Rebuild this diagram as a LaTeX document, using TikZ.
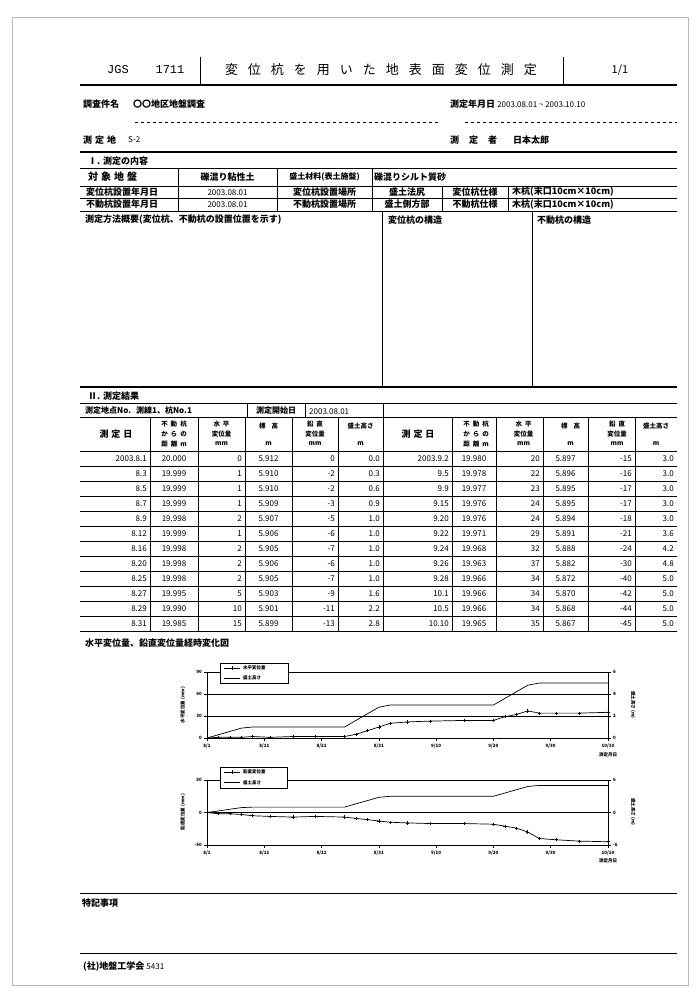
\documentclass[tikz,border=0pt]{standalone}
\usepackage{fontspec}
\setmainfont{Noto Sans CJK JP}
\newfontfamily\monof{Liberation Mono}
\newcommand\tg{\hspace{10pt}}
\newcommand\sg{\hspace{3pt}}
\begin{document}
\begin{tikzpicture}[x=1pt,y=-1pt,
  tx/.style={inner sep=0pt, font=\fontsize{9}{10}\selectfont\bfseries},
  tw/.style={tx, anchor=west},
  num/.style={inner sep=0pt, font=\fontsize{8}{9}\selectfont},
  hd/.style={inner sep=0pt, font=\fontsize{6.5}{7}\selectfont\bfseries},
  tiny/.style={inner sep=0pt, font=\fontsize{4.5}{5}\selectfont\bfseries},
  ln/.style={line width=0.8pt},
  thk/.style={line width=1.3pt},
  gl/.style={line width=0.7pt},
  pl/.style={line width=0.7pt}]
\useasboundingbox (0,0) rectangle (699,994);
\fill[white] (0,0) rectangle (699,994);
\draw[gray!55, line width=0.6pt] (12,17) rectangle (688,985);

% ---------- header ----------
\draw[thk] (80,85) -- (677,85);
\draw[ln] (200,57) -- (200,85);
\draw[ln] (563,57) -- (563,85);
\node[inner sep=0pt, font=\monof\fontsize{12}{13}\selectfont] (jgs) at (118,70) {JGS};
\node[inner sep=0pt, font=\monof\fontsize{12}{13}\selectfont] (num) at (170,70) {1711};
\node[inner sep=0pt, font=\fontsize{13}{14}\selectfont] (title) at (381,70) {変\tg 位\tg 杭\tg を\tg 用\tg い\tg た\tg 地\tg 表\tg 面\tg 変\tg 位\tg 測\tg 定};
\node[inner sep=0pt, font=\fontsize{11}{12}\selectfont] (page) at (620,70) {1/1};

\node[tw] (kenmei) at (83,104) {調査件名};
\node[tw] (kenmeiv) at (133,104) {〇〇地区地盤調査};
\node[tw] (sbi) at (450,104) {測定年月日 {\mdseries\fontsize{8}{9}\selectfont 2003.08.01 \textasciitilde{} 2003.10.10}};
\draw[ln, dash pattern=on 3pt off 3pt] (135,122) -- (438,122);
\draw[ln, dash pattern=on 3pt off 3pt] (465,122) -- (677,122);
\node[tw] (chi) at (83,140) {測\sg 定\sg 地};
\node[tw] (chiv) at (128,140) {\mdseries\fontsize{8}{9}\selectfont S-2};
\node[tw] (sha) at (450,140) {測\tg 定\tg 者};
\node[tw] (shav) at (513,140) {日本太郎};
\draw[thk] (80,152) -- (677,152);

% ---------- section I ----------
\node[tw] (s1) at (88,161) {Ⅰ. 測定の内容};
\foreach \yy in {168,186,198,211} \draw[ln] (80,\yy) -- (677,\yy);
\foreach \xx in {178,277,372} \draw[ln] (\xx,168) -- (\xx,211);
\foreach \xx in {442,508} \draw[ln] (\xx,186) -- (\xx,211);
\node[tw, font=\fontsize{10}{11}\selectfont\bfseries] (r1a) at (88,177) {対\sg 象\sg 地\sg 盤};
\node[tx] (r1b) at (227.5,177) {礫混り粘性土};
\node[tx, font=\fontsize{8}{9}\selectfont\bfseries] (r1c) at (324.5,177) {盛土材料(表土施盤)};
\node[tw] (r1d) at (374,177) {礫混りシルト質砂};
\node[tw] (r2a) at (86,192) {変位杭設置年月日};
\node[num] (r2b) at (227.5,192.5) {2003.08.01};
\node[tx] (r2c) at (324.5,192) {変位杭設置場所};
\node[tx] (r2d) at (407,192) {盛土法尻};
\node[tx] (r2e) at (475,192) {変位杭仕様};
\node[tw] (r2f) at (512,192) {木杭(末口10cm×10cm)};
\node[tw] (r3a) at (86,204.5) {不動杭設置年月日};
\node[num] (r3b) at (227.5,205) {2003.08.01};
\node[tx] (r3c) at (324.5,204.5) {不動杭設置場所};
\node[tx] (r3d) at (407,204.5) {盛土側方部};
\node[tx] (r3e) at (475,204.5) {不動杭仕様};
\node[tw] (r3f) at (512,204.5) {木杭(末口10cm×10cm)};
\node[tw] (meth) at (85,220) {測定方法概要(変位杭、不動杭の設置位置を示す)};
\node[tw] (str1) at (388,220) {変位杭の構造};
\node[tw] (str2) at (537,220) {不動杭の構造};
\draw[ln] (382,211) -- (382,387);
\draw[ln] (532,211) -- (532,387);
\draw[thk] (80,387) -- (677,387);

% ---------- section II ----------
\node[tw] (s2) at (88,396) {Ⅱ. 測定結果};
\draw[ln] (80,403) -- (677,403);
\draw[ln] (80,417) -- (677,417);
\foreach \xx in {247,305,383} \draw[ln] (\xx,403) -- (\xx,417);
\node[num, anchor=west, font=\fontsize{8}{9}\selectfont\bfseries] (pt) at (85,410) {測定地点No.};
\node[num, anchor=west, font=\fontsize{8}{9}\selectfont\bfseries] (ptv) at (136,410) {測線1、杭No.1};
\node[tx, font=\fontsize{8}{9}\selectfont\bfseries] (st) at (276,410) {測定開始日};
\node[num, anchor=west] (stv) at (309,412) {2003.08.01};
\foreach \xx in {150,198,245,292,338,383,452,496,543,588,635} \draw[ln] (\xx,417) -- (\xx,631);
\foreach \k in {0,...,12} \draw[ln] (80,451+15*\k) -- (677,451+15*\k);
% header cells
\foreach \o/\s in {0/L,302/R}{
  \node[tx] (hd\s a) at (116+\o,434) {測\sg 定\sg 日};
  \node[hd] (hd\s b1) at (174+\o,424) {不\sg 動\sg 杭};
  \node[hd] (hd\s b2) at (174+\o,434) {か\sg ら\sg の};
  \node[hd] (hd\s b3) at (174+\o,444) {距\sg 離\sg m};
  \node[hd] (hd\s c1) at (221.5+\o,424) {水\sg 平};
  \node[hd] (hd\s c2) at (221.5+\o,434) {変位量};
  \node[hd] (hd\s c3) at (221.5+\o,444) {mm};
  \node[hd] (hd\s d1) at (268.5+\o,426) {標\hspace{6pt}高};
  \node[hd] (hd\s d3) at (268.5+\o,444) {m};
  \node[hd] (hd\s e1) at (315+\o,424) {鉛\sg 直};
  \node[hd] (hd\s e2) at (315+\o,434) {変位量};
  \node[hd] (hd\s e3) at (315+\o,444) {mm};
}
\node[hd] (hdLf1) at (360.5,426) {盛土高さ};
\node[hd] (hdLf3) at (360.5,444) {m};
\node[hd] (hdRf1) at (656,426) {盛土高さ};
\node[hd] (hdRf3) at (656,444) {m};
% data
\foreach \da/\db/\dc/\dd/\de/\df [count=\k from 0] in {
 2003.8.1/20.000/0/5.912/0/0.0, 8.3/19.999/1/5.910/-2/0.3, 8.5/19.999/1/5.910/-2/0.6,
 8.7/19.999/1/5.909/-3/0.9, 8.9/19.998/2/5.907/-5/1.0, 8.12/19.999/1/5.906/-6/1.0,
 8.16/19.998/2/5.905/-7/1.0, 8.20/19.998/2/5.906/-6/1.0, 8.25/19.998/2/5.905/-7/1.0,
 8.27/19.995/5/5.903/-9/1.6, 8.29/19.990/10/5.901/-11/2.2, 8.31/19.985/15/5.899/-13/2.8}{
  \pgfmathsetmacro\yy{458.5+15*\k}
  \node[num, anchor=east] (la\k) at (147,\yy) {\da};
  \node[num] (lb\k) at (174,\yy) {\db};
  \node[num, anchor=east] (lc\k) at (242,\yy) {\dc};
  \node[num] (ld\k) at (268.5,\yy) {\dd};
  \node[num, anchor=east] (le\k) at (335,\yy) {\de};
  \node[num, anchor=east] (lf\k) at (380,\yy) {\df};
}
\foreach \da/\db/\dc/\dd/\de/\df [count=\k from 0] in {
 2003.9.2/19.980/20/5.897/-15/3.0, 9.5/19.978/22/5.896/-16/3.0, 9.9/19.977/23/5.895/-17/3.0,
 9.15/19.976/24/5.895/-17/3.0, 9.20/19.976/24/5.894/-18/3.0, 9.22/19.971/29/5.891/-21/3.6,
 9.24/19.968/32/5.888/-24/4.2, 9.26/19.963/37/5.882/-30/4.8, 9.28/19.966/34/5.872/-40/5.0,
 10.1/19.966/34/5.870/-42/5.0, 10.5/19.966/34/5.868/-44/5.0, 10.10/19.965/35/5.867/-45/5.0}{
  \pgfmathsetmacro\yy{458.5+15*\k}
  \node[num, anchor=east] (ra\k) at (449,\yy) {\da};
  \node[num] (rb\k) at (474,\yy) {\db};
  \node[num, anchor=east] (rc\k) at (540,\yy) {\dc};
  \node[num] (rd\k) at (565.5,\yy) {\dd};
  \node[num, anchor=east] (re\k) at (632,\yy) {\de};
  \node[num, anchor=east] (rf\k) at (674,\yy) {\df};
}

% ---------- charts ----------
\node[tw] (ctitle) at (85,643) {水平変位量、鉛直変位量経時変化図};

% chart 1
\draw[gl] (207,672) rectangle (608,738);
\draw[gl] (207,694) -- (608,694);
\draw[gl] (207,716) -- (608,716);
\foreach \yy/\la/\ra in {672/90/6, 694/60/4, 716/30/2, 738/0/0}{
  \draw[gl] (204,\yy) -- (207,\yy);
  \draw[gl] (608,\yy) -- (611,\yy);
  \node[tiny, anchor=east] (c1l\la) at (202,\yy) {\la};
  \node[tiny, anchor=west] (c1r\ra) at (613,\yy) {\ra};
}
\foreach \xx/\lb [count=\i] in {207/{8/1}, 264.3/{8/11}, 321.6/{8/21}, 378.9/{8/31}, 436.1/{9/10}, 493.4/{9/20}, 550.7/{9/30}, 608/{10/10}}{
  \draw[gl] (\xx,738) -- (\xx,741);
  \draw[gl] (\xx,845) -- (\xx,848);
  \node[tiny] (c1x\i) at (\xx,746) {\lb};
  \node[tiny] (c2x\i) at (\xx,853) {\lb};
}
\node[tiny] (c1m) at (608,755) {測定月日};
\node[tiny] (c2m) at (608,861) {測定月日};
\node[tiny, rotate=90] (c1yl) at (183,705) {水平変位量 (mm)};
\node[tiny, rotate=-90] (c1yr) at (633,705) {盛土高さ (m)};
\draw[pl] plot coordinates {(207,738) (218.5,734.7) (229.9,731.4) (241.4,728.1) (252.8,727) (270.0,727) (292.9,727) (315.8,727) (344.5,727) (355.9,720.4) (367.4,713.8) (378.9,707.2) (390.3,705) (407.5,705) (430.4,705) (464.8,705) (493.4,705) (504.9,698.4) (516.3,691.8) (527.8,685.2) (539.3,683) (556.4,683) (579.4,683) (608,683)};
\draw[pl] plot[mark=+, mark size=1.6pt] coordinates {(207,738) (218.5,737.3) (229.9,737.3) (241.4,737.3) (252.8,736.5) (270.0,737.3) (292.9,736.5) (315.8,736.5) (344.5,736.5) (355.9,734.3) (367.4,730.7) (378.9,727.0) (390.3,723.3) (407.5,721.9) (430.4,721.1) (464.8,720.4) (493.4,720.4) (504.9,716.7) (516.3,714.5) (527.8,710.9) (539.3,713.1) (556.4,713.1) (579.4,713.1) (608,712.3)};
\draw[gl, fill=white] (220,663) rectangle (288,683);
\draw[pl] (224,668) -- (240,668);
\draw[pl] (232,666.4) -- (232,669.6);
\node[tiny, anchor=west] (lg1a) at (243,668) {水平変位量};
\draw[pl] (224,678) -- (240,678);
\node[tiny, anchor=west] (lg1b) at (243,678) {盛土高さ};

% chart 2
\draw[gl] (207,780) rectangle (608,845);
\draw[gl] (207,812.5) -- (608,812.5);
\foreach \yy/\la/\ra [count=\i] in {780/50/6, 812.5/0/0, 845/-50/-6}{
  \draw[gl] (204,\yy) -- (207,\yy);
  \draw[gl] (608,\yy) -- (611,\yy);
  \node[tiny, anchor=east] (c2l\i) at (202,\yy) {\la};
  \node[tiny, anchor=west] (c2r\i) at (613,\yy) {\ra};
}
\node[tiny, rotate=90] (c2yl) at (183,812) {鉛直変位量 (mm)};
\node[tiny, rotate=-90] (c2yr) at (633,812) {盛土高さ (m)};
\draw[pl] plot coordinates {(207,812.5) (218.5,810.9) (229.9,809.25) (241.4,807.6) (252.8,807.1) (270.0,807.1) (292.9,807.1) (315.8,807.1) (344.5,807.1) (355.9,803.8) (367.4,800.6) (378.9,797.3) (390.3,796.25) (407.5,796.25) (430.4,796.25) (464.8,796.25) (493.4,796.25) (504.9,793) (516.3,789.75) (527.8,786.5) (539.3,785.4) (556.4,785.4) (579.4,785.4) (608,785.4)};
\draw[pl] plot[mark=+, mark size=1.6pt] coordinates {(207,812.5) (218.5,813.8) (229.9,813.8) (241.4,814.45) (252.8,815.75) (270.0,816.4) (292.9,817.05) (315.8,816.4) (344.5,817.05) (355.9,818.35) (367.4,819.65) (378.9,820.95) (390.3,822.25) (407.5,822.9) (430.4,823.55) (464.8,823.55) (493.4,824.2) (504.9,826.15) (516.3,828.1) (527.8,832) (539.3,838.5) (556.4,839.8) (579.4,841.1) (608,841.75)};
\draw[gl, fill=white] (220,767) rectangle (287,788);
\draw[pl] (224,772) -- (240,772);
\draw[pl] (232,770.4) -- (232,773.6);
\node[tiny, anchor=west] (lg2a) at (243,772) {鉛直変位量};
\draw[pl] (224,782.5) -- (240,782.5);
\node[tiny, anchor=west] (lg2b) at (243,782.5) {盛土高さ};

% ---------- remarks / footer ----------
\draw[ln] (80,893) -- (677,893);
\node[tw] (toki) at (82,903) {特記事項};
\draw[ln] (80,953) -- (677,953);
\node[tw] (foot) at (83,967) {(社)地盤工学会 {\mdseries\fontsize{8}{9}\selectfont 5431}};
\end{tikzpicture}
\end{document}
